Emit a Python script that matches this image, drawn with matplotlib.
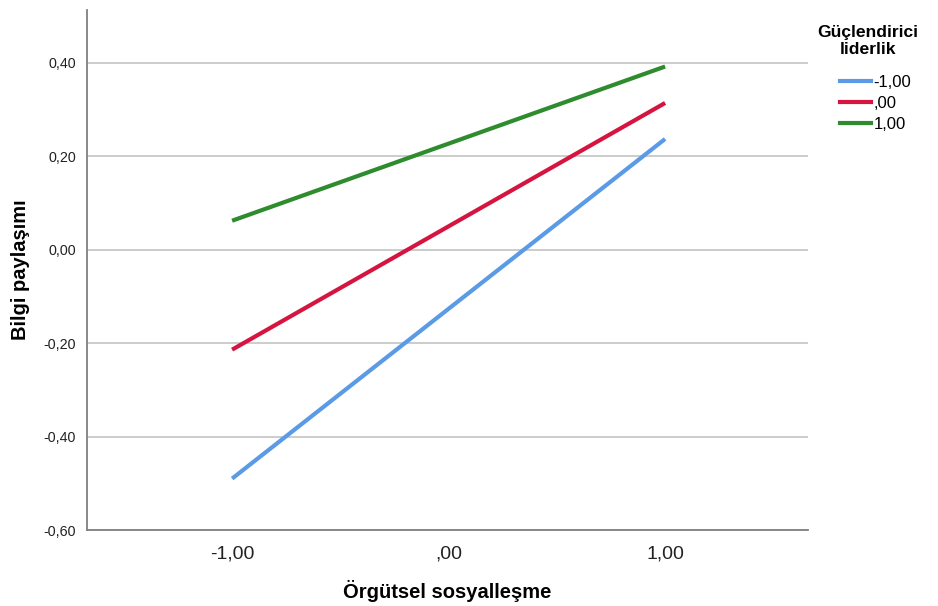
import matplotlib
matplotlib.use('Agg')
from matplotlib import pyplot as plt
from matplotlib.lines import Line2D

plt.rcParams['font.family'] = ['Liberation Sans', 'DejaVu Sans']

# data
x_vals = [-1.0, 1.0]
series_names = ['-1,00', ',00', '1,00']
low_lead = [-0.490, 0.237]
mid_lead = [-0.214, 0.314]
high_lead = [0.062, 0.392]
colors = ['#5b9be6', '#d5143f', '#2e8b2e']

x_ticks = [-1.0, 0.0, 1.0]
x_ticklabels = ['-1,00', ',00', '1,00']
y_ticks = [-0.6, -0.4, -0.2, 0.0, 0.2, 0.4]
y_ticklabels = ['-0,60', '-0,40', '-0,20', '0,00', '0,20', '0,40']

fig = plt.figure(figsize=(9.38, 6.06), dpi=100)
ax = fig.add_axes([0.0928, 0.1254, 0.7686, 0.8581])

for vals, c in zip([low_lead, mid_lead, high_lead], colors):
    ax.plot(x_vals, vals, color=c, lw=3, solid_capstyle='butt', zorder=3)

ax.set_xlim(-1.67, 1.66)
ax.set_ylim(-0.6, 0.513)
ax.set_yticks(y_ticks)
ax.set_yticklabels(y_ticklabels, fontsize=10.3)
ax.set_xticks(x_ticks)
ax.set_xticklabels(x_ticklabels, fontsize=14)
ax.tick_params(axis='y', length=0, pad=8, colors='#222222')
ax.tick_params(axis='x', length=0, pad=11, colors='#222222')
ax.grid(axis='y', color='#c8c8c8', lw=1.3, zorder=1)
ax.set_axisbelow(True)
for s in ['top', 'right']:
    ax.spines[s].set_visible(False)
for s in ['left', 'bottom']:
    ax.spines[s].set_color('#808080')
    ax.spines[s].set_linewidth(1.3)

ax.set_xlabel('Örgütsel sosyalleşme', fontsize=14.5, fontweight='bold', labelpad=13)
ax.set_ylabel('Bilgi paylaşımı', fontsize=14.5, fontweight='bold', labelpad=10)

# legend title
fig.text(868 / 938, 1 - 41 / 606, 'Güçlendirici\nliderlik', ha='center', va='center',
         multialignment='center', fontsize=12.6, fontweight='bold', linespacing=1.2)

handles = [Line2D([0], [0], color=c, lw=3) for c in colors]
leg = fig.legend(handles, series_names, loc='upper left',
                 bbox_to_anchor=(840 / 938, 1 - 75 / 606), frameon=False,
                 fontsize=12, handlelength=1.85, handletextpad=0.15, labelspacing=0.35,
                 borderpad=0, borderaxespad=0)

fig.savefig('out.png', dpi=100)
